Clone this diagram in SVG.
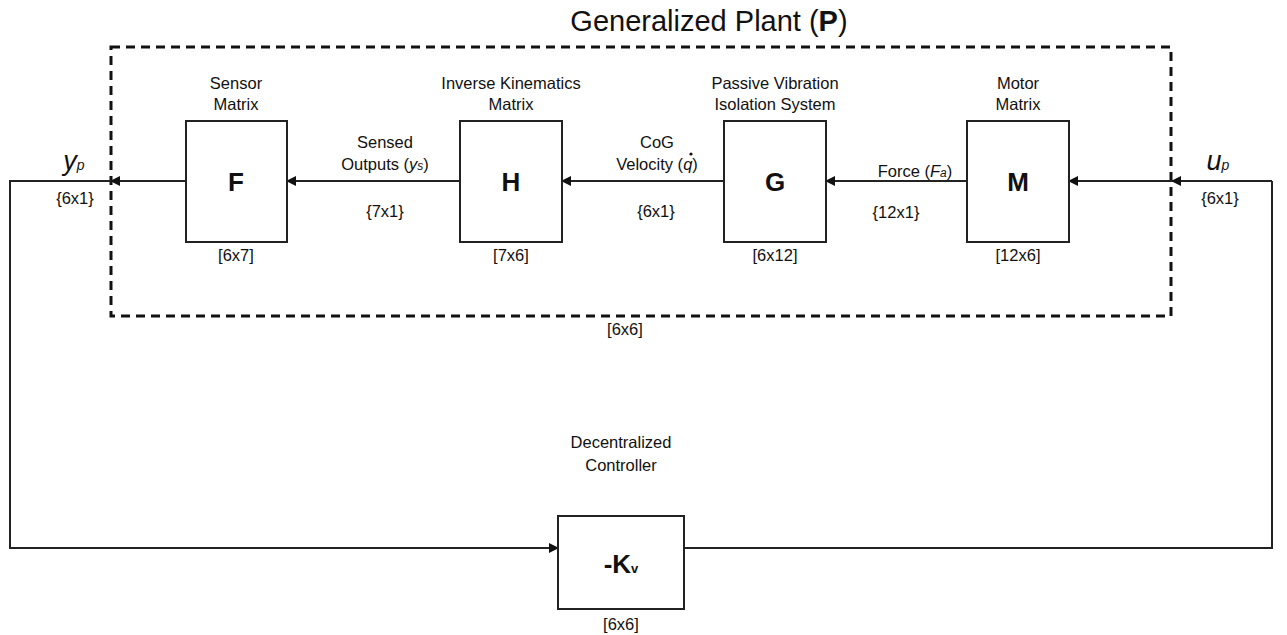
<svg xmlns="http://www.w3.org/2000/svg" width="1287" height="635" viewBox="0 0 1287 635">
<style>
text{font-family:"Liberation Sans",Arial,sans-serif;fill:#111;text-anchor:middle}
.lbl{font-size:16.5px}
.big{font-size:26px;font-weight:bold}
.box{fill:#fff;stroke:#222;stroke-width:2}
.ln{fill:none;stroke:#222;stroke-width:2}
.it{font-style:italic}
</style>
<defs>
<marker id="ah" markerWidth="10" markerHeight="10" refX="9" refY="5" orient="auto" markerUnits="userSpaceOnUse">
<path d="M0,0 L10,5 L0,10 z" fill="#111"/>
</marker>
</defs>
<rect width="1287" height="635" fill="#fff"/>
<text x="709" y="31" style="font-size:29px">Generalized Plant (<tspan font-weight="bold">P</tspan>)</text>
<rect id="plant" x="111" y="47" width="1060" height="269" fill="none" stroke="#111" stroke-width="3" stroke-dasharray="9,6"/>
<text x="625" y="335" class="lbl">[6x6]</text>
<g id="connectors">
<line class="ln" x1="1272" y1="181" x2="1172" y2="181" marker-end="url(#ah)"/>
<line class="ln" x1="1172" y1="181" x2="1069" y2="181" marker-end="url(#ah)"/>
<line class="ln" x1="967" y1="181" x2="826" y2="181" marker-end="url(#ah)"/>
<line class="ln" x1="724" y1="181" x2="562" y2="181" marker-end="url(#ah)"/>
<line class="ln" x1="460" y1="181" x2="287" y2="181" marker-end="url(#ah)"/>
<line class="ln" x1="186" y1="181" x2="111" y2="181" marker-end="url(#ah)"/>
<polyline class="ln" points="111,181 10,181 10,548 558,548" marker-end="url(#ah)"/>
<polyline class="ln" points="684,548 1272,548 1272,181"/>
</g>
<g id="F">
<text x="236" y="89" class="lbl">Sensor</text>
<text x="236" y="110" class="lbl">Matrix</text>
<rect class="box" x="186" y="121" width="101" height="121"/>
<text x="236" y="191" class="big">F</text>
<text x="236" y="261" class="lbl">[6x7]</text>
</g>
<g id="H">
<text x="511" y="89" class="lbl">Inverse Kinematics</text>
<text x="511" y="110" class="lbl">Matrix</text>
<rect class="box" x="460" y="121" width="102" height="121"/>
<text x="511" y="191" class="big">H</text>
<text x="511" y="261" class="lbl">[7x6]</text>
</g>
<g id="G">
<text x="775" y="89" class="lbl">Passive Vibration</text>
<text x="775" y="110" class="lbl">Isolation System</text>
<rect class="box" x="724" y="121" width="102" height="121"/>
<text x="775" y="191" class="big">G</text>
<text x="775" y="261" class="lbl">[6x12]</text>
</g>
<g id="M">
<text x="1018" y="89" class="lbl">Motor</text>
<text x="1018" y="110" class="lbl">Matrix</text>
<rect class="box" x="967" y="121" width="102" height="121"/>
<text x="1018" y="191" class="big">M</text>
<text x="1018" y="261" class="lbl">[12x6]</text>
</g>
<g id="K">
<text x="621" y="448" class="lbl">Decentralized</text>
<text x="621" y="471" class="lbl">Controller</text>
<rect class="box" x="558" y="516" width="126" height="93"/>
<text x="621" y="573" class="big">-K<tspan style="font-size:13px">v</tspan></text>
<text x="621" y="630" class="lbl">[6x6]</text>
</g>
<g id="signals">
<text x="385" y="148" class="lbl">Sensed</text>
<text x="385" y="170" class="lbl">Outputs (<tspan class="it">y</tspan><tspan class="it" style="font-size:12px">s</tspan>)</text>
<text x="385" y="217" class="lbl">{7x1}</text>
<text x="657" y="148" class="lbl">CoG</text>
<text x="657" y="170" class="lbl">Velocity (<tspan class="it">q</tspan>)</text>
<circle cx="691" cy="154" r="1.6" fill="#111"/>
<text x="656" y="217" class="lbl">{6x1}</text>
<text x="915" y="177" class="lbl">Force (<tspan class="it">F</tspan><tspan class="it" style="font-size:12px">a</tspan>)</text>
<text x="896" y="218" class="lbl">{12x1}</text>
<text x="74" y="170" style="font-size:27px" class="it">y<tspan style="font-size:14px">p</tspan></text>
<text x="75" y="204" class="lbl">{6x1}</text>
<text x="1218" y="170" style="font-size:27px" class="it">u<tspan style="font-size:14px">p</tspan></text>
<text x="1220" y="204" class="lbl">{6x1}</text>
</g>
</svg>
